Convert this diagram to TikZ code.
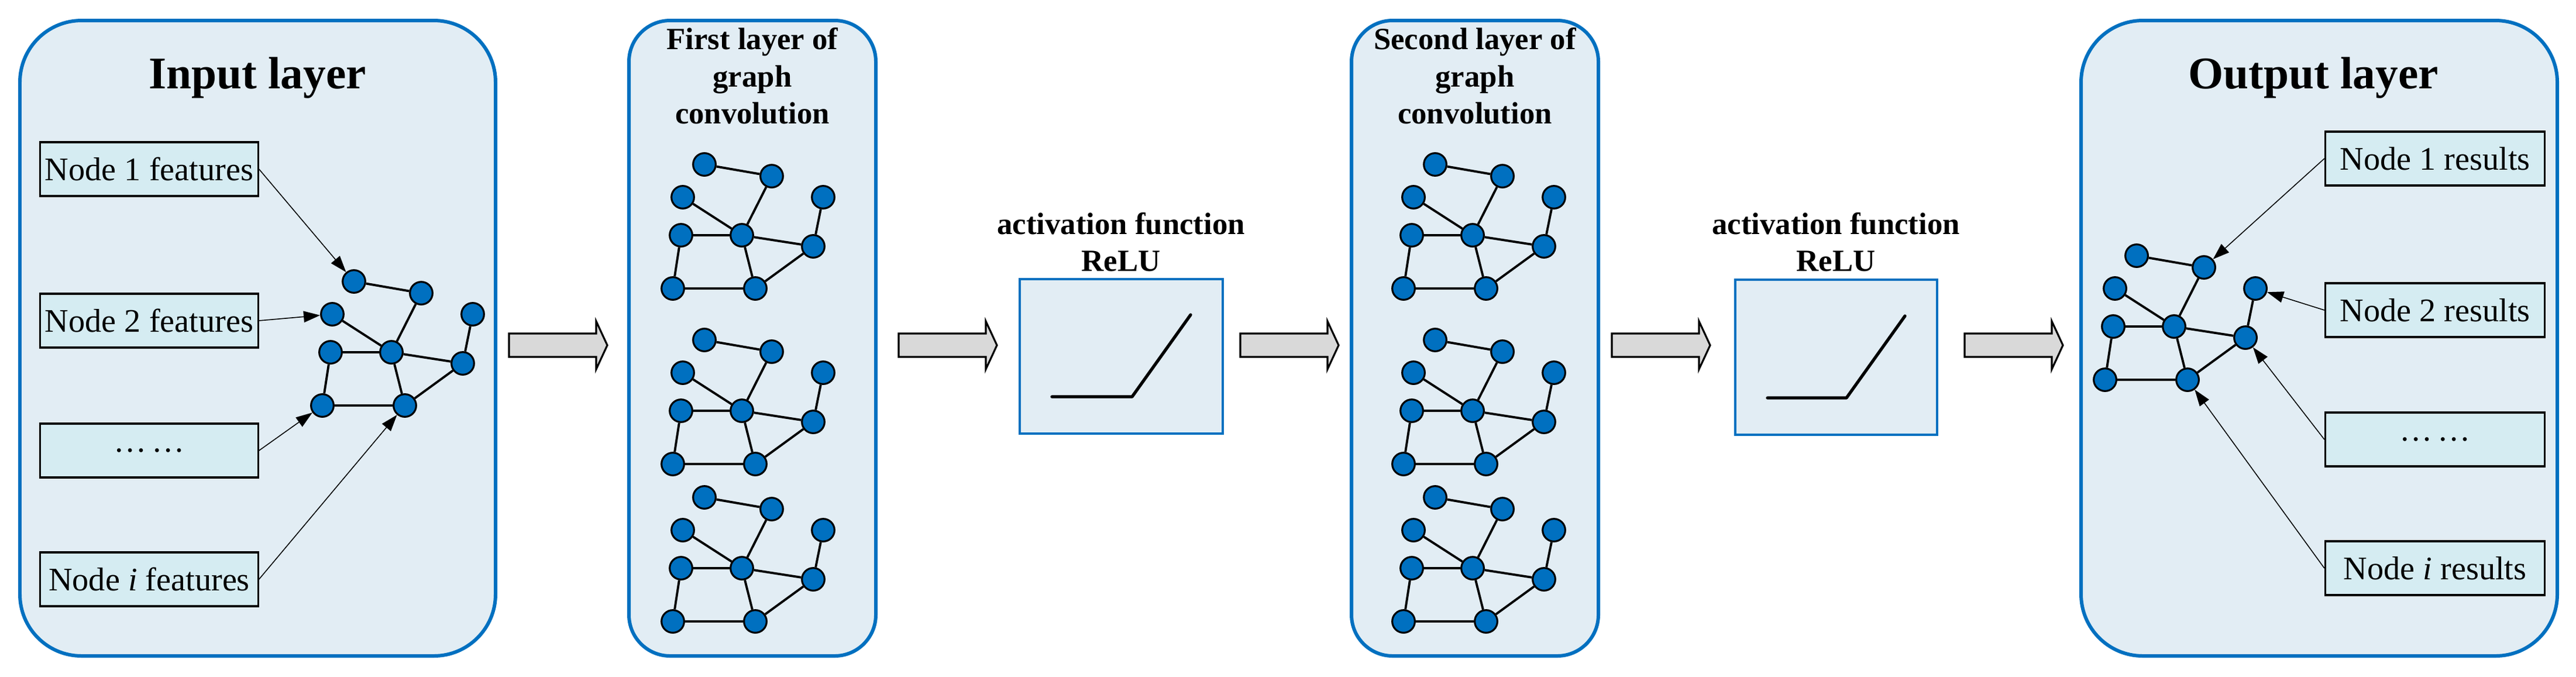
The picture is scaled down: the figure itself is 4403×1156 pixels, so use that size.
\documentclass[tikz,border=0pt]{standalone}
\usepackage{fontspec}
\setmainfont{Liberation Serif}
\usetikzlibrary{arrows.meta}
\definecolor{bblue}{HTML}{0070C0}
\definecolor{bfill}{HTML}{E2EDF4}
\definecolor{ffill}{HTML}{D5ECF2}
\definecolor{agray}{HTML}{D9D9D9}
\begin{document}
\begin{tikzpicture}[x=0.01cm,y=-0.01cm,
  layer/.style={draw=bblue,line width=1.7pt,fill=bfill},
  gn/.style={circle,draw=black,line width=0.9pt,fill=bblue,minimum size=11pt,inner sep=0pt},
  ge/.style={line width=1.1pt},
  feat/.style={draw=black,line width=0.9pt,fill=ffill,minimum width=372\pgflinewidth,inner sep=0pt,font=\fontsize{16}{18}\selectfont},
  thin/.style={line width=0.45pt,-{Triangle[length=8pt,width=5.5pt]}},
  big/.style={font=\fontsize{22}{26}\selectfont\bfseries},
  ltitle/.style={font=\fontsize{15}{18}\selectfont\bfseries,align=center},
  garrow/.style={draw=black,line width=0.9pt,fill=agray},
  relu/.style={line width=1.5pt,line cap=round,line join=round},
  graph/.pic={
    \node[gn] (-a) at (-64,-121) {};
    \node[gn] (-b) at (51,-101) {};
    \node[gn] (-c) at (-101,-65) {};
    \node[gn] (-d) at (139,-65) {};
    \node[gn] (-e) at (-104,0) {};
    \node[gn] (-f) at (0,0) {};
    \node[gn] (-g) at (122,19) {};
    \node[gn] (-h) at (-118,91) {};
    \node[gn] (-i) at (23,91) {};
    \draw[ge] (-a)--(-b) (-b)--(-f) (-c)--(-f) (-e)--(-f) (-f)--(-g) (-g)--(-d)
      (-e)--(-h) (-f)--(-i) (-h)--(-i) (-i)--(-g);
  }]
\useasboundingbox (0,0) rectangle (4403,1156);
% layers
\draw[layer,rounded corners=30pt] (34,35) rectangle (847,1121);
\draw[layer,rounded corners=20pt] (1075,35) rectangle (1497,1121);
\draw[layer,rounded corners=20pt] (2310,35) rectangle (2732,1121);
\draw[layer,rounded corners=30pt] (3557,35) rectangle (4371,1121);
% titles
\node[big] (tin) at (440,133) {Input layer};
\node[big] (tout) at (3954,133) {Output layer};
\node[ltitle] (t1) at (1286,130) {First layer of\\graph\\convolution};
\node[ltitle] (t2) at (2521,130) {Second layer of\\graph\\convolution};
% input features
\tikzset{fbox/.style={draw=black,line width=0.9pt,fill=ffill,minimum width=3.72cm,minimum height=0.92cm,inner sep=0pt,font=\fontsize{16}{18}\selectfont}}
\node[fbox] (f1) at (255,289) {Node 1 features};
\node[fbox] (f2) at (255,548) {Node 2 features};
\node[fbox] (f3) at (255,770) {…\,…};
\node[fbox] (f4) at (255,990) {Node \textit{i} features};
\pic (gin) at (669,602) {graph};
\draw[thin] (f1.east) -- (gin-a);
\draw[thin] (f2.east) -- (gin-c);
\draw[thin] (f3.east) -- (gin-h);
\draw[thin] (f4.east) -- (gin-i);
% first layer graphs
\pic (ga) at (1268,402) {graph};
\pic (gb) at (1268,702) {graph};
\pic (gc) at (1268,971) {graph};
\pic (gd) at (2517,402) {graph};
\pic (ge) at (2517,702) {graph};
\pic (gf) at (2517,971) {graph};
% relu boxes
\node[ltitle] (r1t) at (1916,414) {activation function\\ReLU};
\draw[draw=bblue,line width=1.2pt,fill=bfill] (1743,477) rectangle (2090,741);
\draw[relu] (1798,678) -- (1935,678) -- (2035,538);
\node[ltitle] (r2t) at (3138,414) {activation function\\ReLU};
\draw[draw=bblue,line width=1.2pt,fill=bfill] (2966,478) rectangle (3311,743);
\draw[relu] (3021,680) -- (3156,680) -- (3256,540);
% gray arrows
\foreach \x in {870,1536,2120,2755,3358}{
  \draw[garrow] (\x,570) -- (\x+149,570) -- (\x+149,549) -- (\x+168,590) -- (\x+149,631) -- (\x+149,610) -- (\x,610) -- cycle;
}
% output
\node[fbox,minimum width=3.75cm] (o1) at (4162,271) {Node 1 results};
\node[fbox,minimum width=3.75cm] (o2) at (4162,530) {Node 2 results};
\node[fbox,minimum width=3.75cm] (o3) at (4162,751) {…\,…};
\node[fbox,minimum width=3.75cm] (o4) at (4162,971) {Node \textit{i} results};
\pic (gout) at (3716,558) {graph};
\draw[thin] (o1.west) -- (gout-b);
\draw[thin] (o2.west) -- (gout-d);
\draw[thin] (o3.west) -- (gout-g);
\draw[thin] (o4.west) -- (gout-i);
\end{tikzpicture}
\end{document}
